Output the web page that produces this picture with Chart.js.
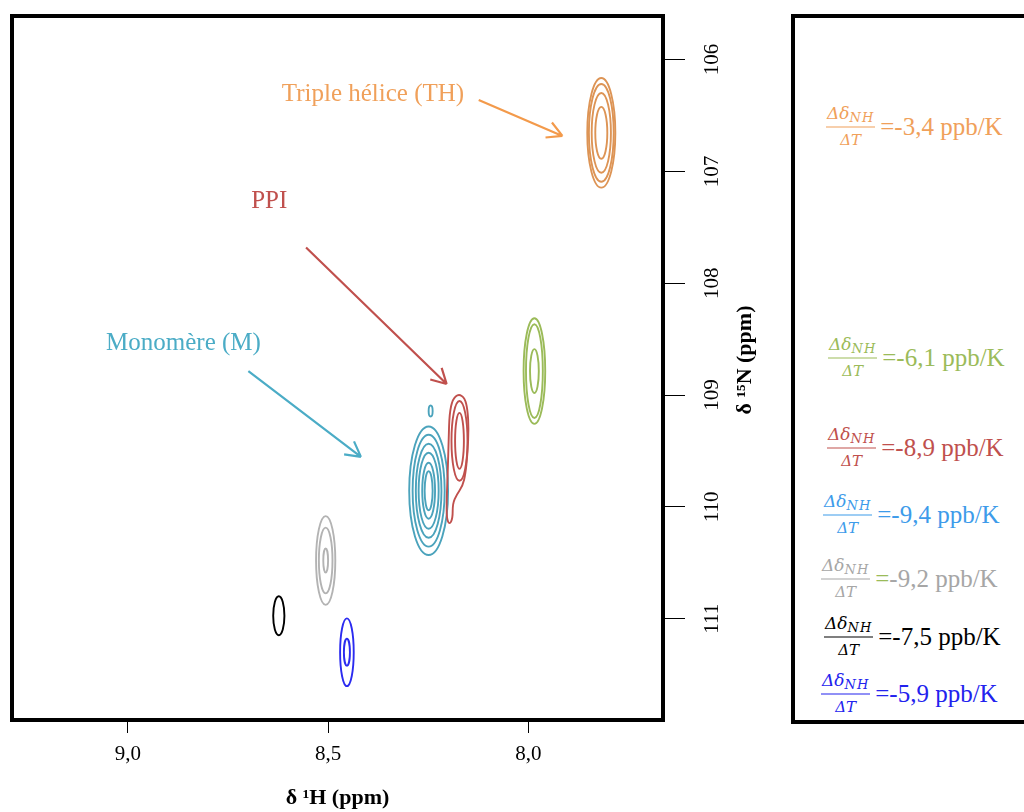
<!DOCTYPE html>
<html lang="fr">
<head>
<meta charset="UTF-8">
<title>HSQC 1H-15N : coefficients de température</title>
<script src="https://cdn.jsdelivr.net/npm/chart.js"></script>
<style>
  html, body { margin: 0; padding: 0; background: #fff; }
  body { width: 1024px; height: 812px; position: relative; overflow: hidden; font-family: 'Liberation Serif', serif; }
  #spectrum-wrap { position: absolute; left: 0; top: 0; width: 790px; height: 812px; }
  #rates { position: absolute; left: 791px; top: 14px; width: 260px; height: 710px; box-sizing: border-box; border: 4px solid #000; border-right: none; }
  .rate { position: absolute; display: flex; align-items: center; transform: translateY(-50%); white-space: nowrap; }
  .frac { display: inline-flex; flex-direction: column; align-items: center; font-family: 'DejaVu Serif', serif; font-style: italic; line-height: 1; margin-right: 5px; }
  .frac .num { font-size: 17px; padding: 0 1px 3px; border-bottom: 1.5px solid currentColor; }
  .frac .num sub { font-size: 13px; vertical-align: -3px; letter-spacing: 1px; }
  .frac .den { font-size: 15px; padding-top: 5px; }
  .val { font-size: 25px; }
</style>
</head>
<body>
<div id="spectrum-wrap"><canvas id="spectrum" width="790" height="812"></canvas></div>
<div id="rates"></div>

<script>
// cross-peak centres (ppm): TH, green, PPI, M, grey, black, blue, small M shoulder
const peakH = [7.818, 7.985, 8.172, 8.249, 8.506, 8.623, 8.453, 8.244];
const peakN = [106.655, 108.785, 109.409, 109.855, 110.479, 110.973, 111.299, 109.142];

// contour levels, outer to inner: half-width along 1H and along 15N (ppm)
const ringH = [
  [0.035, 0.031, 0.024, 0.015],
  [0.027, 0.021, 0.011],
  [0.020, 0.011],
  [0.0485, 0.040, 0.032, 0.025, 0.016, 0.010],
  [0.024, 0.017, 0.006],
  [0.014],
  [0.017, 0.0075],
  [0.005]
];
const ringN = [
  [0.49, 0.437, 0.357, 0.232],
  [0.472, 0.419, 0.196],
  [0.357, 0.25],
  [0.575, 0.50, 0.42, 0.34, 0.25, 0.174],
  [0.397, 0.294, 0.107],
  [0.174],
  [0.303, 0.120],
  [0.049]
];

// outer PPI contour (loop + tail)
const ppiEdgeH = [8.174, 8.159, 8.152, 8.149, 8.152, 8.157, 8.164, 8.179, 8.189, 8.189, 8.197, 8.204, 8.204, 8.201, 8.199, 8.197, 8.189];
const ppiEdgeN = [108.990, 109.025, 109.124, 109.301, 109.524, 109.702, 109.810, 109.890, 109.970, 110.104, 110.158, 110.104, 109.926, 109.658, 109.390, 109.167, 109.033];

// temperature coefficients dδNH/dT (ppb/K), same order as the peaks
const tempCoeff = [-3.4, -6.1, -8.9, -9.4, -9.2, -7.5, -5.9];

// annotations
const labelText = ['Triple hélice (TH)', 'PPI', 'Monomère (M)'];
const labelH = [8.388, 8.647, 8.861];
const labelN = [106.307, 107.270, 108.536];
const arrowFromH = [8.124, 8.555, 8.699];
const arrowFromN = [106.361, 107.680, 108.785];
const arrowToH = [7.915, 8.204, 8.418];
const arrowToN = [106.682, 108.901, 109.552];

const xTicks = [8.0, 8.5, 9.0];
const yTicks = [106, 107, 108, 109, 110, 111];

// styling
const peakColors = ['#DD9455', '#9BBB59', '#C0504D', '#4BA3BC', '#B3B3B3', '#000000', '#2B2BF0', '#4BA3BC'];
const rateColors = ['#F0A05A', '#9BBB59', '#C0504D', '#3D9BEA', '#A6A6A6', '#000000', '#2222EE'];
const rateEqColors = ['#F0A05A', '#9BBB59', '#C0504D', '#3D9BEA', '#9BBB59', '#000000', '#2222EE'];
const rateRowLeft = [31, 33, 32, 28, 26, 29, 26];
const rateRowTop = [108, 339, 429, 496, 560, 618, 675];
const labelColors = ['#F0A05A', '#C0504D', '#4BACC6'];
const arrowColors = ['#F39A4B', '#C0504D', '#4BACC6'];

const fmt = v => v.toFixed(1).replace('.', ',');

function smoothClosed(ctx, pts) {
  const n = pts.length;
  const mid = (a, b) => [(a[0] + b[0]) / 2, (a[1] + b[1]) / 2];
  const m0 = mid(pts[n - 1], pts[0]);
  ctx.moveTo(m0[0], m0[1]);
  for (let i = 0; i < n; i++) {
    const p = pts[i], m = mid(p, pts[(i + 1) % n]);
    ctx.quadraticCurveTo(p[0], p[1], m[0], m[1]);
  }
  ctx.closePath();
}

const spectrumDecor = {
  id: 'spectrumDecor',
  afterDatasetsDraw(chart) {
    const { ctx, chartArea: a, scales: { x, y } } = chart;
    const pts = chart.getDatasetMeta(0).data;
    ctx.save();
    ctx.beginPath();
    ctx.rect(a.left, a.top, a.right - a.left, a.bottom - a.top);
    ctx.clip();

    // contour rings
    ctx.lineWidth = 1.9;
    pts.forEach((pt, i) => {
      ctx.strokeStyle = peakColors[i];
      ringH[i].forEach((rh, j) => {
        const rx = Math.abs(x.getPixelForValue(peakH[i] + rh) - pt.x);
        const ry = Math.abs(y.getPixelForValue(peakN[i] + ringN[i][j]) - pt.y);
        ctx.beginPath();
        ctx.ellipse(pt.x, pt.y, rx, ry, 0, 0, Math.PI * 2);
        ctx.stroke();
      });
    });

    // PPI outer contour
    ctx.strokeStyle = peakColors[2];
    ctx.beginPath();
    smoothClosed(ctx, ppiEdgeH.map((h, i) => [x.getPixelForValue(h), y.getPixelForValue(ppiEdgeN[i])]));
    ctx.stroke();

    // arrows
    ctx.lineWidth = 2.2;
    arrowFromH.forEach((h, i) => {
      const x0 = x.getPixelForValue(h), y0 = y.getPixelForValue(arrowFromN[i]);
      const x1 = x.getPixelForValue(arrowToH[i]), y1 = y.getPixelForValue(arrowToN[i]);
      const ang = Math.atan2(y1 - y0, x1 - x0);
      ctx.strokeStyle = arrowColors[i];
      ctx.beginPath();
      ctx.moveTo(x0, y0);
      ctx.lineTo(x1, y1);
      [-0.5, 0.5].forEach(d => {
        ctx.moveTo(x1, y1);
        ctx.lineTo(x1 - 17 * Math.cos(ang + d), y1 - 17 * Math.sin(ang + d));
      });
      ctx.stroke();
    });

    // labels
    ctx.font = '25px "Liberation Serif"';
    ctx.textAlign = 'center';
    ctx.textBaseline = 'middle';
    labelText.forEach((t, i) => {
      ctx.fillStyle = labelColors[i];
      ctx.fillText(t, x.getPixelForValue(labelH[i]), y.getPixelForValue(labelN[i]));
    });
    ctx.restore();
  },
  afterDraw(chart) {
    const { ctx, chartArea: a, scales: { y } } = chart;
    ctx.save();
    // frame
    ctx.strokeStyle = '#000';
    ctx.lineWidth = 4;
    ctx.strokeRect(a.left, a.top, a.right - a.left, a.bottom - a.top);

    // rotated 15N tick labels
    ctx.fillStyle = '#000';
    ctx.font = '21px "Liberation Serif"';
    ctx.textAlign = 'center';
    ctx.textBaseline = 'middle';
    yTicks.forEach(v => {
      ctx.save();
      ctx.translate(a.right + 49, y.getPixelForValue(v));
      ctx.rotate(-Math.PI / 2);
      ctx.fillText(String(v), 0, 0);
      ctx.restore();
    });

    // 15N axis title
    ctx.font = 'bold 22px "Liberation Serif"';
    ctx.translate(a.right + 82, 360);
    ctx.rotate(-Math.PI / 2);
    ctx.fillText('δ ¹⁵N (ppm)', 0, 0);
    ctx.restore();
  }
};

Chart.defaults.font.family = '"Liberation Serif", serif';

new Chart(document.getElementById('spectrum'), {
  type: 'scatter',
  data: {
    datasets: [{
      data: peakH.map((h, i) => ({ x: h, y: peakN[i] })),
      pointRadius: 0,
      pointHoverRadius: 0
    }]
  },
  options: {
    responsive: false,
    animation: false,
    events: [],
    layout: { padding: { left: 12, top: 16, right: 17, bottom: 0 } },
    plugins: { legend: { display: false }, tooltip: { enabled: false } },
    scales: {
      x: {
        type: 'linear', reverse: true, min: 7.664, max: 9.289,
        afterBuildTicks: s => { s.ticks = xTicks.map(v => ({ value: v })); },
        afterFit: s => { s.height = 92; },
        border: { display: false },
        grid: { drawOnChartArea: false, drawTicks: true, tickLength: 13, color: '#000', lineWidth: 1 },
        ticks: { color: '#000', font: { size: 21 }, padding: 9, maxRotation: 0, callback: v => fmt(v) },
        title: { display: true, text: 'δ ¹H (ppm)', color: '#000', font: { size: 22, weight: 'bold' }, padding: 0 }
      },
      y: {
        type: 'linear', position: 'right', reverse: true, min: 105.61, max: 111.905,
        afterBuildTicks: s => { s.ticks = yTicks.map(v => ({ value: v })); },
        afterFit: s => { s.width = 110; },
        border: { display: false },
        grid: { drawOnChartArea: false, drawTicks: true, tickLength: 22, color: '#000', lineWidth: 1 },
        ticks: { display: false }
      }
    }
  },
  plugins: [spectrumDecor]
});

// right-hand panel: temperature coefficients
const rates = document.getElementById('rates');
tempCoeff.forEach((c, i) => {
  const row = document.createElement('div');
  row.className = 'rate';
  row.style.left = rateRowLeft[i] + 'px';
  row.style.top = rateRowTop[i] + 'px';
  row.style.color = rateColors[i];
  row.innerHTML =
    '<span class="frac"><span class="num">Δδ<sub>NH</sub></span><span class="den">ΔT</span></span>' +
    '<span class="val"><span style="color:' + rateEqColors[i] + '">=</span>' + fmt(c) + ' ppb/K</span>';
  rates.appendChild(row);
});
</script>
</body>
</html>
